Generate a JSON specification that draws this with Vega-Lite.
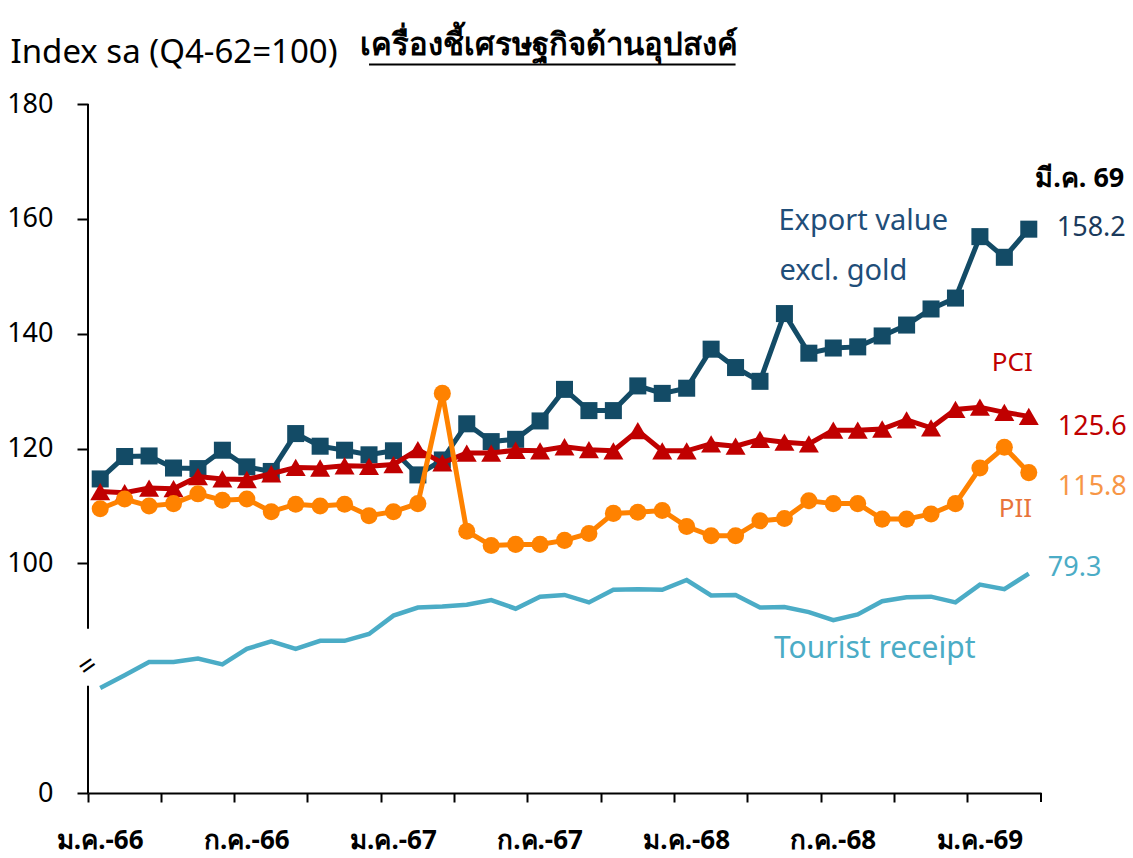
{
  "$schema": "https://vega.github.io/schema/vega-lite/v6.json",
  "width": 953,
  "height": 689,
  "autosize": "none",
  "padding": {"left": 88, "top": 104, "right": 92, "bottom": 65},
  "background": "white",
  "config": {
    "view": {"stroke": null},
    "font": "Noto Sans",
    "text": {"font": "Noto Sans"}
  },
  "datasets": {
    "d": [
      {"month": "ม.ค.-66", "export": 114.7, "pci": 112.5, "pii": 109.5, "tourist": 59.4},
      {"month": "ก.พ.-66", "export": 118.6, "pci": 112.3, "pii": 111.2, "tourist": 61.6},
      {"month": "มี.ค.-66", "export": 118.7, "pci": 113.1, "pii": 110.0, "tourist": 63.9},
      {"month": "เม.ย.-66", "export": 116.6, "pci": 113.0, "pii": 110.4, "tourist": 63.9},
      {"month": "พ.ค.-66", "export": 116.5, "pci": 115.1, "pii": 112.1, "tourist": 64.5},
      {"month": "มิ.ย.-66", "export": 119.7, "pci": 114.7, "pii": 111.0, "tourist": 63.5},
      {"month": "ก.ค.-66", "export": 116.8, "pci": 114.6, "pii": 111.2, "tourist": 66.2},
      {"month": "ส.ค.-66", "export": 116.0, "pci": 115.6, "pii": 109.0, "tourist": 67.5},
      {"month": "ก.ย.-66", "export": 122.6, "pci": 116.7, "pii": 110.3, "tourist": 66.2},
      {"month": "ต.ค.-66", "export": 120.4, "pci": 116.6, "pii": 110.0, "tourist": 67.6},
      {"month": "พ.ย.-66", "export": 119.7, "pci": 117.0, "pii": 110.3, "tourist": 67.6},
      {"month": "ธ.ค.-66", "export": 118.9, "pci": 116.9, "pii": 108.3, "tourist": 68.8},
      {"month": "ม.ค.-67", "export": 119.6, "pci": 117.2, "pii": 109.0, "tourist": 72.0},
      {"month": "ก.พ.-67", "export": 115.4, "pci": 119.8, "pii": 110.4, "tourist": 73.4},
      {"month": "มี.ค.-67", "export": 118.0, "pci": 117.5, "pii": 129.6, "tourist": 73.6},
      {"month": "เม.ย.-67", "export": 124.3, "pci": 119.2, "pii": 105.6, "tourist": 73.9},
      {"month": "พ.ค.-67", "export": 121.2, "pci": 119.2, "pii": 103.1, "tourist": 74.7},
      {"month": "มิ.ย.-67", "export": 121.6, "pci": 119.7, "pii": 103.3, "tourist": 73.2},
      {"month": "ก.ค.-67", "export": 124.8, "pci": 119.6, "pii": 103.3, "tourist": 75.3},
      {"month": "ส.ค.-67", "export": 130.3, "pci": 120.3, "pii": 104.0, "tourist": 75.6},
      {"month": "ก.ย.-67", "export": 126.6, "pci": 119.8, "pii": 105.2, "tourist": 74.3},
      {"month": "ต.ค.-67", "export": 126.6, "pci": 119.6, "pii": 108.7, "tourist": 76.5},
      {"month": "พ.ย.-67", "export": 130.9, "pci": 123.1, "pii": 108.9, "tourist": 76.6},
      {"month": "ธ.ค.-67", "export": 129.6, "pci": 119.6, "pii": 109.2, "tourist": 76.5},
      {"month": "ม.ค.-68", "export": 130.5, "pci": 119.6, "pii": 106.4, "tourist": 78.2},
      {"month": "ก.พ.-68", "export": 137.3, "pci": 120.8, "pii": 104.8, "tourist": 75.5},
      {"month": "มี.ค.-68", "export": 134.1, "pci": 120.4, "pii": 104.8, "tourist": 75.6},
      {"month": "เม.ย.-68", "export": 131.7, "pci": 121.6, "pii": 107.4, "tourist": 73.4},
      {"month": "พ.ค.-68", "export": 143.5, "pci": 121.1, "pii": 107.8, "tourist": 73.5},
      {"month": "มิ.ย.-68", "export": 136.6, "pci": 120.8, "pii": 110.9, "tourist": 72.6},
      {"month": "ก.ค.-68", "export": 137.5, "pci": 123.2, "pii": 110.4, "tourist": 71.2},
      {"month": "ส.ค.-68", "export": 137.7, "pci": 123.2, "pii": 110.4, "tourist": 72.2},
      {"month": "ก.ย.-68", "export": 139.6, "pci": 123.4, "pii": 107.7, "tourist": 74.5},
      {"month": "ต.ค.-68", "export": 141.5, "pci": 125.0, "pii": 107.7, "tourist": 75.2},
      {"month": "พ.ย.-68", "export": 144.3, "pci": 123.6, "pii": 108.6, "tourist": 75.3},
      {"month": "ธ.ค.-68", "export": 146.2, "pci": 126.8, "pii": 110.4, "tourist": 74.3},
      {"month": "ม.ค.-69", "export": 156.9, "pci": 127.2, "pii": 116.6, "tourist": 77.4},
      {"month": "ก.พ.-69", "export": 153.3, "pci": 126.3, "pii": 120.2, "tourist": 76.6},
      {"month": "มี.ค.-69", "export": 158.2, "pci": 125.6, "pii": 115.8, "tourist": 79.3}
    ]
  },
  "data": {"name": "d"},
  "resolve": {"scale": {"y": "independent"}},
  "layer": [
    {
      "mark": {"type": "line", "color": "#4bacc6", "strokeWidth": 4.5},
      "encoding": {
        "x": {
          "field": "month", "type": "ordinal", "sort": null,
          "scale": {
            "type": "band", "paddingInner": 0, "paddingOuter": 0,
            "domain": ["ม.ค.-66","ก.พ.-66","มี.ค.-66","เม.ย.-66","พ.ค.-66","มิ.ย.-66","ก.ค.-66","ส.ค.-66","ก.ย.-66","ต.ค.-66","พ.ย.-66","ธ.ค.-66","ม.ค.-67","ก.พ.-67","มี.ค.-67","เม.ย.-67","พ.ค.-67","มิ.ย.-67","ก.ค.-67","ส.ค.-67","ก.ย.-67","ต.ค.-67","พ.ย.-67","ธ.ค.-67","ม.ค.-68","ก.พ.-68","มี.ค.-68","เม.ย.-68","พ.ค.-68","มิ.ย.-68","ก.ค.-68","ส.ค.-68","ก.ย.-68","ต.ค.-68","พ.ย.-68","ธ.ค.-68","ม.ค.-69","ก.พ.-69","มี.ค.-69"]
          },
          "axis": {
            "title": null,
            "values": ["ม.ค.-66","เม.ย.-66","ก.ค.-66","ต.ค.-66","ม.ค.-67","เม.ย.-67","ก.ค.-67","ต.ค.-67","ม.ค.-68","เม.ย.-68","ก.ค.-68","ต.ค.-68","ม.ค.-69"],
            "labelExpr": "indexof(datum.value, 'ม.ค.') == 0 || indexof(datum.value, 'ก.ค.') == 0 ? datum.value : ''",
            "bandPosition": 0,
            "labelAngle": 0,
            "labelFontSize": 26,
            "labelFontWeight": "bold",
            "labelColor": "#000000",
            "labelPadding": 25,
            "labelFont": "Noto Sans",
            "tickSize": 9,
            "tickWidth": 2,
            "tickColor": "#000000",
            "domainColor": "#000000",
            "domainWidth": 2,
            "grid": false
          }
        },
        "y": {"field": "tourist", "type": "quantitative", "scale": {"domain": [41.1, 161.1], "zero": false, "nice": false}, "axis": null}
      }
    },
    {
      "transform": [{"filter": "datum.month == 'มี.ค.-69'"}],
      "mark": {"type": "text", "align": "left", "baseline": "middle", "dx": 19, "dy": -6, "fontSize": 27, "color": "#4bacc6"},
      "encoding": {
        "x": {"field": "month", "type": "ordinal"},
        "y": {"field": "tourist", "type": "quantitative", "scale": {"domain": [41.1, 161.1], "zero": false, "nice": false}, "axis": null},
        "text": {"field": "tourist", "type": "quantitative", "format": ".1f"}
      }
    },
    {
      "mark": {"type": "line", "color": "#134b66", "strokeWidth": 5},
      "encoding": {
        "x": {"field": "month", "type": "ordinal", "sort": null},
        "y": {
          "field": "export", "type": "quantitative",
          "scale": {"domain": [60, 180], "zero": false, "nice": false},
          "axis": {
            "orient": "left",
            "values": [60, 100, 120, 140, 160, 180],
            "labelExpr": "datum.value == 60 ? '0' : datum.label",
            "domain": false,
            "grid": false,
            "tickSize": 11,
            "tickWidth": 2,
            "tickColor": "#000000",
            "labelFontSize": 27,
            "labelColor": "#000000",
            "labelPadding": 24,
            "labelFont": "Noto Sans",
            "title": "Index sa (Q4-62=100)",
            "titleAngle": 0,
            "titleAlign": "left",
            "titleBaseline": "alphabetic",
            "titleX": -78,
            "titleY": -42,
            "titleFontSize": 33,
            "titleFontWeight": "normal",
            "titleColor": "#000000",
            "titleFont": "Noto Sans"
          }
        }
      }
    },
    {
      "mark": {"type": "point", "shape": "square", "filled": true, "size": 290, "color": "#134b66", "opacity": 1},
      "encoding": {
        "x": {"field": "month", "type": "ordinal", "sort": null},
        "y": {"field": "export", "type": "quantitative", "scale": {"domain": [60, 180], "zero": false, "nice": false}, "axis": null}
      }
    },
    {
      "mark": {"type": "line", "color": "#c00000", "strokeWidth": 5},
      "encoding": {
        "x": {"field": "month", "type": "ordinal", "sort": null},
        "y": {"field": "pci", "type": "quantitative", "scale": {"domain": [60, 180], "zero": false, "nice": false}, "axis": null}
      }
    },
    {
      "mark": {"type": "point", "shape": "triangle-up", "filled": true, "size": 400, "color": "#c00000", "opacity": 1},
      "encoding": {
        "x": {"field": "month", "type": "ordinal", "sort": null},
        "y": {"field": "pci", "type": "quantitative", "scale": {"domain": [60, 180], "zero": false, "nice": false}, "axis": null}
      }
    },
    {
      "mark": {"type": "line", "color": "#ff8200", "strokeWidth": 5},
      "encoding": {
        "x": {"field": "month", "type": "ordinal", "sort": null},
        "y": {"field": "pii", "type": "quantitative", "scale": {"domain": [60, 180], "zero": false, "nice": false}, "axis": null}
      }
    },
    {
      "mark": {"type": "point", "shape": "circle", "filled": true, "size": 290, "color": "#ff8200", "opacity": 1},
      "encoding": {
        "x": {"field": "month", "type": "ordinal", "sort": null},
        "y": {"field": "pii", "type": "quantitative", "scale": {"domain": [60, 180], "zero": false, "nice": false}, "axis": null}
      }
    },
    {
      "transform": [{"filter": "datum.month == 'มี.ค.-69'"}],
      "mark": {"type": "text", "align": "right", "baseline": "middle", "dx": 97, "dy": -1, "fontSize": 27, "color": "#1b3a5c"},
      "encoding": {
        "x": {"field": "month", "type": "ordinal"},
        "y": {"field": "export", "type": "quantitative", "scale": {"domain": [60, 180], "zero": false, "nice": false}, "axis": null},
        "text": {"field": "export", "type": "quantitative", "format": ".1f"}
      }
    },
    {
      "transform": [{"filter": "datum.month == 'มี.ค.-69'"}],
      "mark": {"type": "text", "align": "right", "baseline": "middle", "dx": 98, "dy": 11, "fontSize": 27, "color": "#c00000"},
      "encoding": {
        "x": {"field": "month", "type": "ordinal"},
        "y": {"field": "pci", "type": "quantitative", "scale": {"domain": [60, 180], "zero": false, "nice": false}, "axis": null},
        "text": {"field": "pci", "type": "quantitative", "format": ".1f"}
      }
    },
    {
      "transform": [{"filter": "datum.month == 'มี.ค.-69'"}],
      "mark": {"type": "text", "align": "right", "baseline": "middle", "dx": 98, "dy": 14, "fontSize": 27, "color": "#f79646"},
      "encoding": {
        "x": {"field": "month", "type": "ordinal"},
        "y": {"field": "pii", "type": "quantitative", "scale": {"domain": [60, 180], "zero": false, "nice": false}, "axis": null},
        "text": {"field": "pii", "type": "quantitative", "format": ".1f"}
      }
    },
    {
      "data": {"values": [{}]},
      "mark": {"type": "rule", "color": "#000000", "strokeWidth": 2},
      "encoding": {
        "x": {"datum": "ม.ค.-66", "type": "ordinal", "bandPosition": 0},
        "y": {"datum": 60, "type": "quantitative", "scale": {"domain": [60, 180], "zero": false, "nice": false}, "axis": null},
        "y2": {"datum": 78.7}
      }
    },
    {
      "data": {"values": [{}]},
      "mark": {"type": "rule", "color": "#000000", "strokeWidth": 2},
      "encoding": {
        "x": {"datum": "ม.ค.-66", "type": "ordinal", "bandPosition": 0},
        "y": {"datum": 88.6, "type": "quantitative", "scale": {"domain": [60, 180], "zero": false, "nice": false}, "axis": null},
        "y2": {"datum": 180}
      }
    },
    {
      "data": {"values": [{}]},
      "mark": {"type": "rule", "color": "#000000", "strokeWidth": 2},
      "encoding": {
        "x": {"datum": "มี.ค.-69", "type": "ordinal", "bandPosition": 1},
        "y": {"datum": 60, "type": "quantitative", "scale": {"domain": [60, 180], "zero": false, "nice": false}, "axis": null},
        "y2": {"datum": 58.43}
      }
    },
    {
      "data": {"values": [{}]},
      "mark": {"type": "text", "text": "=", "fontSize": 30, "angle": -35, "color": "#000000", "align": "center", "baseline": "middle"},
      "encoding": {
        "x": {"datum": "ม.ค.-66", "type": "ordinal", "bandPosition": 0},
        "y": {"datum": 82, "type": "quantitative", "scale": {"domain": [60, 180], "zero": false, "nice": false}, "axis": null}
      }
    },
    {
      "data": {"values": [{}]},
      "mark": {"type": "text", "align": "center", "baseline": "alphabetic", "dx": -16, "fontSize": 31, "fontWeight": "bold", "color": "#000000", "text": "เครื่องชี้เศรษฐกิจด้านอุปสงค์"},
      "encoding": {
        "x": {"datum": "ส.ค.-67", "type": "ordinal"},
        "y": {"datum": 188.6, "type": "quantitative", "scale": {"domain": [60, 180], "zero": false, "nice": false}, "axis": null}
      }
    },
    {
      "data": {"values": [{}]},
      "mark": {"type": "rule", "color": "#000000", "strokeWidth": 2},
      "encoding": {
        "x": {"datum": "ธ.ค.-66", "type": "ordinal"},
        "x2": {"datum": "มี.ค.-68"},
        "y": {"datum": 186.9, "type": "quantitative", "scale": {"domain": [60, 180], "zero": false, "nice": false}, "axis": null}
      }
    },
    {
      "data": {"values": [{}]},
      "mark": {"type": "text", "align": "center", "baseline": "middle", "dx": 51, "fontSize": 27, "fontWeight": "bold", "color": "#000000", "text": "มี.ค. 69"},
      "encoding": {
        "x": {"datum": "มี.ค.-69", "type": "ordinal"},
        "y": {"datum": 167, "type": "quantitative", "scale": {"domain": [60, 180], "zero": false, "nice": false}, "axis": null}
      }
    },
    {
      "data": {"values": [{}]},
      "mark": {"type": "text", "align": "left", "baseline": "middle", "dx": -6, "fontSize": 29, "color": "#1f4e79", "text": "Export value"},
      "encoding": {
        "x": {"datum": "พ.ค.-68", "type": "ordinal"},
        "y": {"datum": 159.6, "type": "quantitative", "scale": {"domain": [60, 180], "zero": false, "nice": false}, "axis": null}
      }
    },
    {
      "data": {"values": [{}]},
      "mark": {"type": "text", "align": "left", "baseline": "middle", "dx": -5, "fontSize": 29, "color": "#1f4e79", "text": "excl. gold"},
      "encoding": {
        "x": {"datum": "พ.ค.-68", "type": "ordinal"},
        "y": {"datum": 150.9, "type": "quantitative", "scale": {"domain": [60, 180], "zero": false, "nice": false}, "axis": null}
      }
    },
    {
      "data": {"values": [{}]},
      "mark": {"type": "text", "align": "center", "baseline": "middle", "dx": 8, "fontSize": 26, "color": "#c00000", "text": "PCI"},
      "encoding": {
        "x": {"datum": "ก.พ.-69", "type": "ordinal"},
        "y": {"datum": 134.9, "type": "quantitative", "scale": {"domain": [60, 180], "zero": false, "nice": false}, "axis": null}
      }
    },
    {
      "data": {"values": [{}]},
      "mark": {"type": "text", "align": "center", "baseline": "middle", "dx": 11, "fontSize": 26, "color": "#e8743b", "text": "PII"},
      "encoding": {
        "x": {"datum": "ก.พ.-69", "type": "ordinal"},
        "y": {"datum": 109.5, "type": "quantitative", "scale": {"domain": [60, 180], "zero": false, "nice": false}, "axis": null}
      }
    },
    {
      "data": {"values": [{}]},
      "mark": {"type": "text", "align": "center", "baseline": "middle", "dx": 17, "fontSize": 30, "color": "#4bacc6", "text": "Tourist receipt"},
      "encoding": {
        "x": {"datum": "ส.ค.-68", "type": "ordinal"},
        "y": {"datum": 85, "type": "quantitative", "scale": {"domain": [60, 180], "zero": false, "nice": false}, "axis": null}
      }
    }
  ]
}
